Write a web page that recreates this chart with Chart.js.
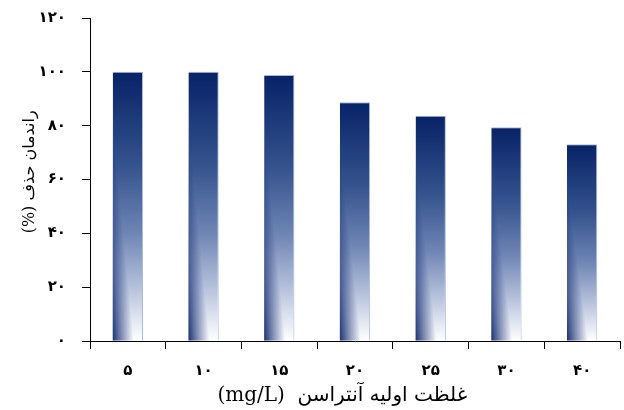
<!DOCTYPE html>
<html><head><meta charset="utf-8">
<script src="https://cdn.jsdelivr.net/npm/chart.js@4/dist/chart.umd.min.js"></script>
<style>html,body{margin:0;padding:0;background:#fff}#wrap{width:624px;height:410px}</style>
</head><body><div id="wrap"><canvas id="c"></canvas></div>
<script>
const categories = ['۵','۱۰','۱۵','۲۰','۲۵','۳۰','۴۰'];
const removal = [100, 100, 98.8, 88.7, 83.7, 79.4, 73.1];
const yTicks = [0, 20, 40, 60, 80, 100, 120];
const xTitle = '(mg/L)  غلظت اولیه آنتراسن    ';
const yTitle = '   (%) راندمان حذف';

const faDigits = '۰۱۲۳۴۵۶۷۸۹';
const toFa = n => String(n).replace(/[0-9]/g, d => faDigits[+d]);

const barShade = {
  id: 'barShade',
  afterDatasetsDraw(chart) {
    const ctx = chart.ctx;
    chart.getDatasetMeta(0).data.forEach(bar => {
      const {x, y, base, width} = bar.getProps(['x','y','base','width'], true);
      const left = x - width / 2, h = base - y;
      const dx = 0.7 * width, dy = 0.8 * h;
      const len = Math.hypot(dx, dy);
      const nx = dy / len, ny = -dx / len;
      const dist = dx * nx;
      const g = ctx.createLinearGradient(left, base, left + nx * dist, base + ny * dist);
      g.addColorStop(0, 'rgba(14,38,110,0.95)');
      g.addColorStop(0.45, 'rgba(14,38,110,0.5)');
      g.addColorStop(1, 'rgba(14,38,110,0)');
      ctx.save();
      ctx.fillStyle = g;
      ctx.fillRect(left, y + 1, width - 1, h - 1);
      ctx.restore();
    });
  }
};

new Chart(document.getElementById('c'), {
  type: 'bar',
  data: {
    labels: categories,
    datasets: [{
      data: removal,
      backgroundColor: (c) => {
        const chart = c.chart, ys = chart.scales.y;
        if (c.type !== 'data' || !ys) return '#0a2568';
        const top = ys.getPixelForValue(c.raw), bot = ys.getPixelForValue(0);
        if (!isFinite(top) || !isFinite(bot) || bot <= top) return '#0a2568';
        const g = chart.ctx.createLinearGradient(0, top, 0, bot);
        g.addColorStop(0, '#072266');
        g.addColorStop(0.35, '#35538e');
        g.addColorStop(0.6, '#6f85b4');
        g.addColorStop(0.82, '#bcc7df');
        g.addColorStop(1, '#ffffff');
        return g;
      },
      borderColor: 'rgba(160,178,214,0.9)',
      borderWidth: {top: 1, right: 1, left: 0, bottom: 0},
      borderSkipped: false,
      categoryPercentage: 0.8,
      barPercentage: 0.5
    }]
  },
  options: {
    responsive: true,
    maintainAspectRatio: false,
    animation: false,
    layout: {padding: {top: 18, right: 4, left: 0, bottom: 0}},
    plugins: {legend: {display: false}, tooltip: {enabled: false}},
    scales: {
      x: {
        offset: true,
        grid: {offset: true, drawOnChartArea: false, drawTicks: true, tickLength: 8, color: '#000'},
        border: {color: '#000', width: 1},
        ticks: {color: '#000', font: {family: "'Liberation Serif','DejaVu Sans'", size: 15, weight: 'bold'}, padding: 13, maxRotation: 0},
        title: {display: true, text: xTitle, color: '#000', font: {family: "'DejaVu Serif','DejaVu Sans'", size: 20}, padding: {top: 0, bottom: 2}},
        afterFit: s => { s.height = 69; s.paddingLeft = 0; s.paddingRight = 0; }
      },
      y: {
        min: 0, max: 120,
        afterBuildTicks: s => { s.ticks = yTicks.map(v => ({value: v})); },
        grid: {drawOnChartArea: false, drawTicks: true, tickLength: 8, color: '#000'},
        border: {color: '#000', width: 1},
        ticks: {color: '#000', font: {family: "'Liberation Serif','DejaVu Sans'", size: 15, weight: 'bold'}, padding: 16, callback: v => toFa(v)},
        title: {display: true, text: yTitle, color: '#000', font: {family: "'DejaVu Serif','DejaVu Sans'", size: 16}, padding: {top: 20, bottom: 0}},
        afterFit: s => { s.width = 90; s.paddingTop = 0; s.paddingBottom = 0; }
      }
    }
  },
  plugins: [barShade]
});
</script>
</body></html>
